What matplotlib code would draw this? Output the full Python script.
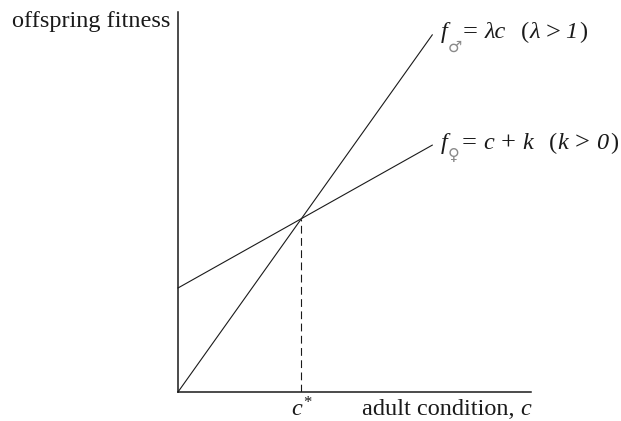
import matplotlib
matplotlib.use("Agg")
import matplotlib.pyplot as plt
import numpy as np
from matplotlib.transforms import offset_copy, blended_transform_factory

# Offspring fitness as a function of adult condition c
lam = 2.5          # male slope, lambda > 1
k = 1.5            # female advantage at c = 0, k > 0
c_end = 2.06       # extent of the drawn fitness lines
x_max = 2.86
y_max = 5.48

c = np.array([0.0, c_end])
f_male = lam * c
f_female = c + k
c_star = k / (lam - 1.0)

SERIF = ["Liberation Serif", "DejaVu Serif"]
SYM = ["DejaVu Sans"]
FS = 17.5
INK = "#1a1a1a"

fig = plt.figure(figsize=(6.21, 4.21), dpi=100)
W, H = 621, 421
ax = fig.add_axes([178 / W, 1 - 392 / H, 353 / W, 380 / H])
ax.set_xlim(0, x_max)
ax.set_ylim(0, y_max)
for s in ("top", "right"):
    ax.spines[s].set_visible(False)
for s in ("left", "bottom"):
    ax.spines[s].set_linewidth(1.1)
    ax.spines[s].set_color(INK)
ax.set_xticks([])
ax.set_yticks([])

ax.plot(c, f_male, color=INK, lw=0.8, clip_on=False)
ax.plot(c, f_female, color=INK, lw=0.8, clip_on=False)
ax.plot([c_star, c_star], [0, lam * c_star], color=INK, lw=0.8,
        dashes=(7, 4))

renderer = fig.canvas.get_renderer()


def rich_text(x, y, pieces, transform, dx=0.0, dy=0.0, ha="left"):
    """Draw a row of differently styled pieces sharing one baseline."""
    items = []
    for s, kw, gap, rise in pieces:
        t = fig.text(x, y, s, transform=transform, ha="left",
                     va="baseline", **kw)
        w = t.get_window_extent(renderer).width * 72.0 / fig.dpi
        items.append((t, w, gap, rise))
    total = sum(w + g for _, w, g, _ in items)
    xo = dx + {"left": 0.0, "center": -total / 2, "right": -total}[ha]
    for t, w, gap, rise in items:
        xo += gap
        t.set_transform(offset_copy(transform, fig=fig, x=xo, y=dy + rise,
                                    units="points"))
        xo += w


rm = dict(family=SERIF, size=FS, color=INK)
it = dict(family=SERIF, size=FS, color=INK, style="italic")
op = dict(family=SERIF, size=FS + 1.5, color=INK)
sub = dict(family=SYM, size=11.5, color="#8a8a8a")

male_label = [
    ("f", it, 0, 0),
    ("\u2642", sub, 0.5, -9.5),
    ("=", op, 0.5, 0),
    ("\u03bbc", it, 4.5, 0),
    ("(", rm, 11.0, 0),
    ("\u03bb", it, 0.5, 0),
    (">", op, 4.0, -0.5),
    ("1", it, 3.5, 0),
    (")", rm, 1.0, 0),
]
female_label = [
    ("f", it, 0, 0),
    ("\u2640", sub, 0.5, -8),
    ("=", op, 1.5, 0),
    ("c", it, 4.5, 0),
    ("+", op, 5.0, -0.5),
    ("k", it, 5.0, 0),
    ("(", rm, 11.0, 0),
    ("k", it, 0.5, 0),
    (">", op, 4.5, -0.5),
    ("0", it, 5.0, 0),
    (")", rm, 1.0, 0),
]
rich_text(c[-1], f_male[-1], male_label, ax.transData, dx=6, dy=-2.5)
rich_text(c[-1], f_female[-1], female_label, ax.transData, dx=6, dy=-2.5)

# axis labels
base_y = 1 - 415 / H
rich_text(c_star, base_y, [("c", it, 0, 0), ("*", rm | dict(size=12), 0.5, 6)],
          blended_transform_factory(ax.transData, fig.transFigure),
          ha="center")
rich_text(1.0, base_y, [("adult condition,", rm, 0, 0), ("c", it, 4.0, 0)],
          blended_transform_factory(ax.transAxes, fig.transFigure),
          ha="right")
fig.text(170 / W, 1 - 27 / H, "offspring fitness", ha="right",
         va="baseline", **rm)

fig.savefig("out.png", dpi=100, facecolor="white")
